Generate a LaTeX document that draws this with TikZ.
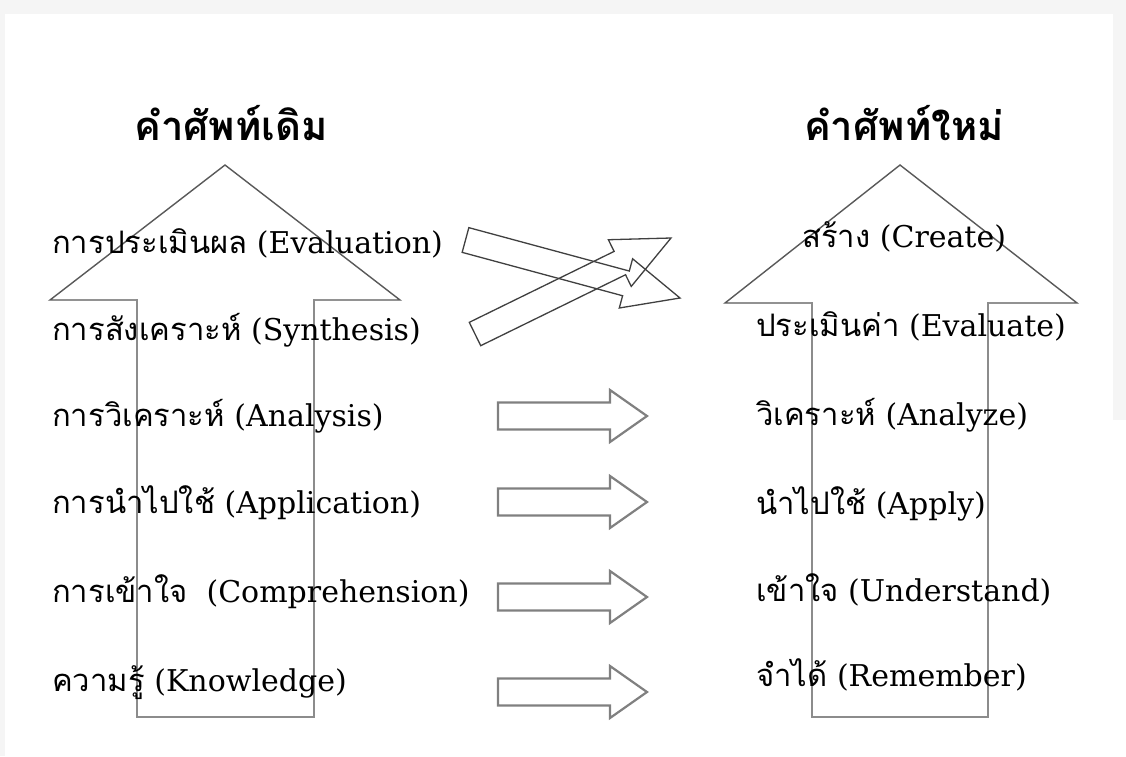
\documentclass[tikz,border=0pt]{standalone}
\usepackage{fontspec}
\setmainfont{DejaVu Serif}
\newfontfamily\thaifont[Script=Thai]{Loma}
\usetikzlibrary{calc}
\tikzset{
  headline/.style={draw=black!65, line width=1.4pt, line join=miter},
  shaftline/.style={draw=black!45, line width=2.6pt, line join=miter},
  smallarr/.style={draw=black!50, line width=2.2pt, line join=miter},
  crossarr/.style={draw=black!75, line width=1.3pt, line join=miter},
  lbl/.style={anchor=base west, inner sep=0pt, font=\fontsize{30}{36}\selectfont},
  ttl/.style={anchor=base, inner sep=0pt, font=\fontsize{40}{46}\selectfont\thaifont\bfseries}
}
\newcommand\thtxt[1]{{\thaifont\fontsize{31}{36}\selectfont #1}}
% block arrow: #1 style, #2 tail, #3 tip, #4 shaft half width, #5 head half width, #6 head length
\newcommand\blockarr[6]{%
  \coordinate (#3-hb) at ($(#3)!#6!(#2)$);
  \draw[#1] ($(#2)!#4!90:(#3)$) -- ($(#3-hb)!#4!-90:(#2)$) -- ($(#3-hb)!#5!-90:(#2)$)
    -- (#3) -- ($(#3-hb)!#5!90:(#2)$) -- ($(#3-hb)!#4!90:(#2)$) -- ($(#2)!#4!-90:(#3)$) -- cycle;
}
\begin{document}
\begin{tikzpicture}[x=1pt,y=-1pt]
\useasboundingbox (0,0) rectangle (1126,756);
\fill[white] (0,0) rectangle (1126,756);
\fill[black!4] (0,0) rectangle (1126,14);
\fill[black!4] (0,0) rectangle (5,756);
\fill[black!4] (1113,0) rectangle (1126,420);

% headings
\node[ttl] (hl) at (231,140) {คำศัพท์เดิม};
\node[ttl] (hr) at (904,140) {คำศัพท์ใหม่};

% big arrows
\coordinate (Lt) at (225,165);
\draw[headline] (137,300) -- (50,300) -- (Lt) -- (400,300) -- (314,300);
\draw[shaftline] (314,299) -- (314,717) -- (137,717) -- (137,299);
\coordinate (Rt) at (900,165);
\draw[headline] (812,303) -- (725,303) -- (Rt) -- (1077,303) -- (988,303);
\draw[shaftline] (988,302) -- (988,717) -- (812,717) -- (812,302);

% left labels
\node[lbl] (l1) at (52,253) {\thtxt{การประเมินผล} (Evaluation)};
\node[lbl] (l2) at (52,340) {\thtxt{การสังเคราะห์} (Synthesis)};
\node[lbl] (l3) at (52,426) {\thtxt{การวิเคราะห์} (Analysis)};
\node[lbl] (l4) at (52,513) {\thtxt{การนำไปใช้} (Application)};
\node[lbl] (l5) at (52,602) {\thtxt{การเข้าใจ}\ \ (Comprehension)};
\node[lbl] (l6) at (52,691) {\thtxt{ความรู้} (Knowledge)};

% right labels
\node[lbl] (r1) at (802,247) {\thtxt{สร้าง} (Create)};
\node[lbl] (r2) at (756,336) {\thtxt{ประเมินค่า} (Evaluate)};
\node[lbl] (r3) at (756,425) {\thtxt{วิเคราะห์} (Analyze)};
\node[lbl] (r4) at (756,514) {\thtxt{นำไปใช้} (Apply)};
\node[lbl] (r5) at (756,601) {\thtxt{เข้าใจ} (Understand)};
\node[lbl] (r6) at (756,686) {\thtxt{จำได้} (Remember)};

% crossing arrows
\coordinate (a1) at (465.5,240); \coordinate (a2) at (680,298);
\coordinate (b1) at (475,334);   \coordinate (b2) at (671,238);
\blockarr{crossarr}{a1}{a2}{12.8pt}{25.5pt}{56pt}
\blockarr{crossarr}{b1}{b2}{13pt}{26pt}{57pt}

% straight arrows
\foreach \i/\y in {3/416,4/502,5/597,6/692}{
  \coordinate (s\i) at (498,\y); \coordinate (t\i) at (647,\y);
  \blockarr{smallarr}{s\i}{t\i}{13.5pt}{26pt}{37pt}
}
\end{tikzpicture}
\end{document}
